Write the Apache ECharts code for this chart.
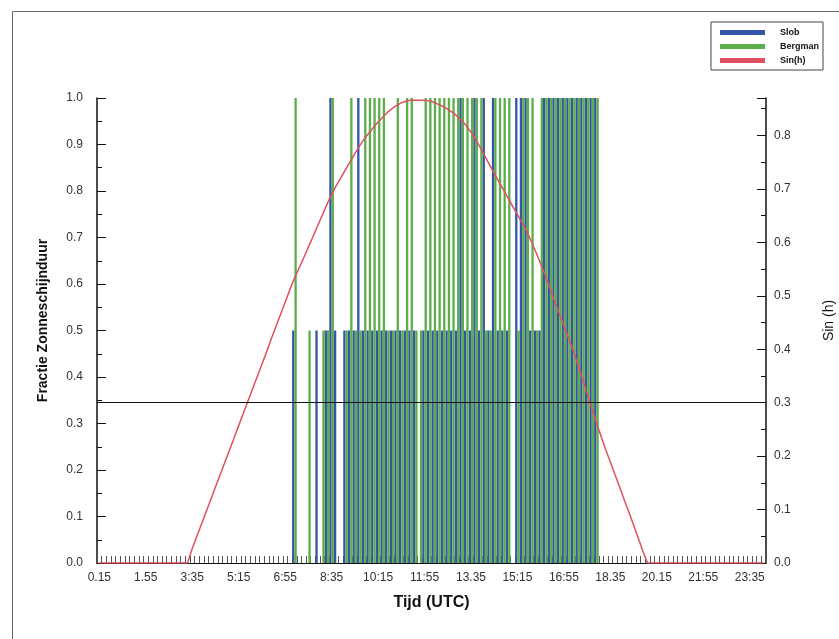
<!DOCTYPE html>
<html>
<head>
<meta charset="utf-8">
<title>Zonneschijnduur en zonshoogte</title>
<script src="https://cdn.jsdelivr.net/npm/echarts@6/dist/echarts.min.js"></script>
<style>
  html, body { margin: 0; padding: 0; background: #ffffff; }
  #chart { width: 839px; height: 639px; }
</style>
</head>
<body>
<div id="chart"></div>
<script>
// Ten-minute time slots, 0:15 .. 24:05 (144 slots)
const timeSlots = [];
for (let m = 15; m < 15 + 144 * 10; m += 10) {
  const h = Math.floor(m / 60), mm = m % 60;
  timeSlots.push(h + ':' + (mm < 10 ? '0' : '') + mm);
}

// Labels printed under every tenth slot
const tickLabels = ['0.15', '1.55', '3:35', '5:15', '6:55', '8:35', '10:15', '11:55',
  '13.35', '15:15', '16:55', '18.35', '20.15', '21:55', '23:35'];

// Sunshine fraction per slot, Slob method
const slob = [
  0, 0, 0, 0, 0, 0, 0, 0, 0, 0, 0, 0, 0, 0, 0, 0, 0, 0, 0, 0,
  0, 0, 0, 0, 0, 0, 0, 0, 0, 0, 0, 0, 0, 0, 0, 0, 0, 0, 0, 0,
  0, 0, 0.5, 0, 0, 0, 0, 0.5, 0, 0.5, 1, 0.5, 0, 0.5, 0.5, 0.5, 1, 0.5, 0.5, 0.5,
  0.5, 0.5, 0.5, 0.5, 0.5, 0.5, 0.5, 0.5, 0.5, 0, 0.5, 0.5, 0.5, 0.5, 0.5, 0.5, 0.5, 0.5, 1, 0.5,
  0.5, 1, 0.5, 1, 0.5, 1, 0.5, 0.5, 0.5, 0, 1, 1, 1, 0.5, 0.5, 0.5, 1, 1, 1, 1,
  1, 1, 1, 1, 1, 1, 1, 1, 0, 0, 0, 0, 0, 0, 0, 0, 0, 0, 0, 0,
  0, 0, 0, 0, 0, 0, 0, 0, 0, 0, 0, 0, 0, 0, 0, 0, 0, 0, 0, 0,
  0, 0, 0, 0
];

// Sunshine fraction per slot, Bergman method
const bergman = [
  0, 0, 0, 0, 0, 0, 0, 0, 0, 0, 0, 0, 0, 0, 0, 0, 0, 0, 0, 0,
  0, 0, 0, 0, 0, 0, 0, 0, 0, 0, 0, 0, 0, 0, 0, 0, 0, 0, 0, 0,
  0, 0, 1, 0, 0, 0.5, 0, 0, 0.5, 0.5, 1, 0, 0, 0.5, 1, 0.5, 0.5, 1, 1, 1,
  1, 1, 0.5, 0.5, 1, 0.5, 1, 1, 0.5, 0.5, 1, 1, 1, 1, 1, 1, 1, 1, 1, 1,
  1, 1, 1, 0.5, 0.5, 1, 1, 1, 1, 0, 0.5, 1, 1, 1, 0.5, 1, 1, 1, 1, 1,
  1, 1, 1, 1, 1, 1, 1, 1, 0, 0, 0, 0, 0, 0, 0, 0, 0, 0, 0, 0,
  0, 0, 0, 0, 0, 0, 0, 0, 0, 0, 0, 0, 0, 0, 0, 0, 0, 0, 0, 0,
  0, 0, 0, 0
];

// Sine of the solar elevation per slot
const sinH = [
  0, 0, 0, 0, 0, 0, 0, 0, 0, 0, 0, 0, 0, 0, 0, 0, 0, 0, 0, 0,
  0.027, 0.050, 0.073, 0.096, 0.119, 0.142, 0.165, 0.188, 0.211, 0.234,
  0.257, 0.280, 0.303, 0.326, 0.349, 0.372, 0.395, 0.419, 0.442, 0.465,
  0.488, 0.511, 0.533, 0.552, 0.571, 0.591, 0.611, 0.631, 0.651, 0.671,
  0.690, 0.706, 0.721, 0.736, 0.751, 0.766, 0.780, 0.793, 0.804, 0.815,
  0.825, 0.834, 0.843, 0.850, 0.856, 0.861, 0.864, 0.866, 0.866, 0.866,
  0.866, 0.865, 0.862, 0.858, 0.854, 0.849, 0.843, 0.836, 0.828, 0.818,
  0.806, 0.793, 0.777, 0.761, 0.745, 0.729, 0.713, 0.698, 0.682, 0.667,
  0.652, 0.637, 0.621, 0.601, 0.581, 0.560, 0.538, 0.514, 0.490, 0.467,
  0.444, 0.421, 0.398, 0.371, 0.344, 0.317, 0.290, 0.263, 0.237, 0.212,
  0.189, 0.165, 0.142, 0.118, 0.095, 0.071, 0.047, 0.022, 0, 0,
  0, 0, 0, 0, 0, 0, 0, 0, 0, 0, 0, 0, 0, 0, 0, 0, 0, 0, 0, 0,
  0, 0, 0, 0
];

// Elevation threshold drawn as a horizontal reference line
const sinThreshold = 0.3;

const FONT = '"Liberation Sans", Arial, sans-serif';

const chart = echarts.init(document.getElementById('chart'), null, { renderer: 'canvas' });

chart.setOption({
  backgroundColor: '#ffffff',
  animation: false,
  textStyle: { fontFamily: FONT },
  grid: { left: 97, right: 73, top: 98, bottom: 76, containLabel: false, outerBoundsMode: 'none' },
  graphic: [
    { type: 'polyline', silent: true, z: 0,
      shape: { points: [[12.5, 639], [12.5, 11.5], [839, 11.5]] },
      style: { stroke: '#666', lineWidth: 1, fill: null } }
  ],
  legend: {
    orient: 'vertical',
    right: 16,
    top: 22,
    padding: [6, 4, 5, 9],
    itemWidth: 45,
    itemHeight: 5,
    itemGap: 5,
    borderColor: '#444',
    borderWidth: 1,
    backgroundColor: '#fff',
    textStyle: { fontSize: 9, fontWeight: 'bold', color: '#111', fontFamily: FONT,
      padding: [0, 0, 0, 10] },
    data: [
      { name: 'Slob', icon: 'rect' },
      { name: 'Bergman', icon: 'rect' },
      { name: 'Sin(h)', icon: 'rect' }
    ]
  },
  xAxis: {
    type: 'category',
    data: timeSlots,
    boundaryGap: true,
    axisLine: { show: true, lineStyle: { color: '#111', width: 1.2 } },
    axisTick: { show: true, inside: true, interval: 0, length: 7,
      lineStyle: { color: '#555', width: 1 } },
    axisLabel: {
      interval: 9,
      margin: 9,
      fontSize: 12,
      color: '#333',
      formatter: function (v, i) { return tickLabels[i / 10]; }
    },
    splitLine: { show: false },
    name: 'Tijd (UTC)',
    nameLocation: 'middle',
    nameGap: 32,
    nameTextStyle: { fontSize: 16, fontWeight: 'bold', color: '#111' }
  },
  yAxis: [
    {
      type: 'value',
      min: 0,
      max: 1,
      interval: 0.1,
      axisLine: { show: true, lineStyle: { color: '#111', width: 1.5 } },
      axisTick: { show: true, inside: true, length: 9, lineStyle: { color: '#111' } },
      minorTick: { show: true, splitNumber: 2, length: 5, lineStyle: { color: '#111' } },
      splitLine: { show: false },
      axisLabel: { margin: 14, fontSize: 12, color: '#333', formatter: v => v.toFixed(1) },
      name: 'Fractie Zonneschijnduur',
      nameLocation: 'middle',
      nameRotate: 90,
      nameGap: 47,
      nameTextStyle: { fontSize: 14, fontWeight: 'bold', color: '#111', padding: [0, 0, 0, 20] }
    },
    {
      type: 'value',
      position: 'right',
      min: 0,
      max: 0.87,
      interval: 0.1,
      axisLine: { show: true, lineStyle: { color: '#111', width: 1.5 } },
      axisTick: { show: true, inside: true, length: 9, lineStyle: { color: '#111' } },
      minorTick: { show: true, splitNumber: 2, length: 5, lineStyle: { color: '#111' } },
      splitLine: { show: false },
      axisLabel: { margin: 8, fontSize: 12, color: '#333', showMaxLabel: false,
        formatter: v => v.toFixed(1) },
      name: 'Sin (h)',
      nameLocation: 'middle',
      nameRotate: 90,
      nameGap: 56,
      nameTextStyle: { fontSize: 14, color: '#111', padding: [0, 0, 0, 20] }
    }
  ],
  series: [
    {
      name: 'Slob',
      type: 'bar',
      yAxisIndex: 0,
      data: slob,
      barGap: '0%',
      barCategoryGap: '0%',
      itemStyle: { color: '#3556a8' },
      z: 2
    },
    {
      name: 'Bergman',
      type: 'bar',
      yAxisIndex: 0,
      data: bergman,
      barGap: '0%',
      barCategoryGap: '0%',
      itemStyle: { color: '#5cae4a' },
      z: 2
    },
    {
      name: 'Sin(h)',
      type: 'line',
      yAxisIndex: 1,
      data: sinH,
      symbol: 'none',
      lineStyle: { color: '#e0505e', width: 1.5 },
      itemStyle: { color: '#e0505e' },
      z: 4,
      markLine: {
        silent: true,
        symbol: ['none', 'none'],
        label: { show: false },
        lineStyle: { color: '#111', type: 'solid', width: 1 },
        data: [{ yAxis: sinThreshold }]
      }
    }
  ]
});
</script>
</body>
</html>
